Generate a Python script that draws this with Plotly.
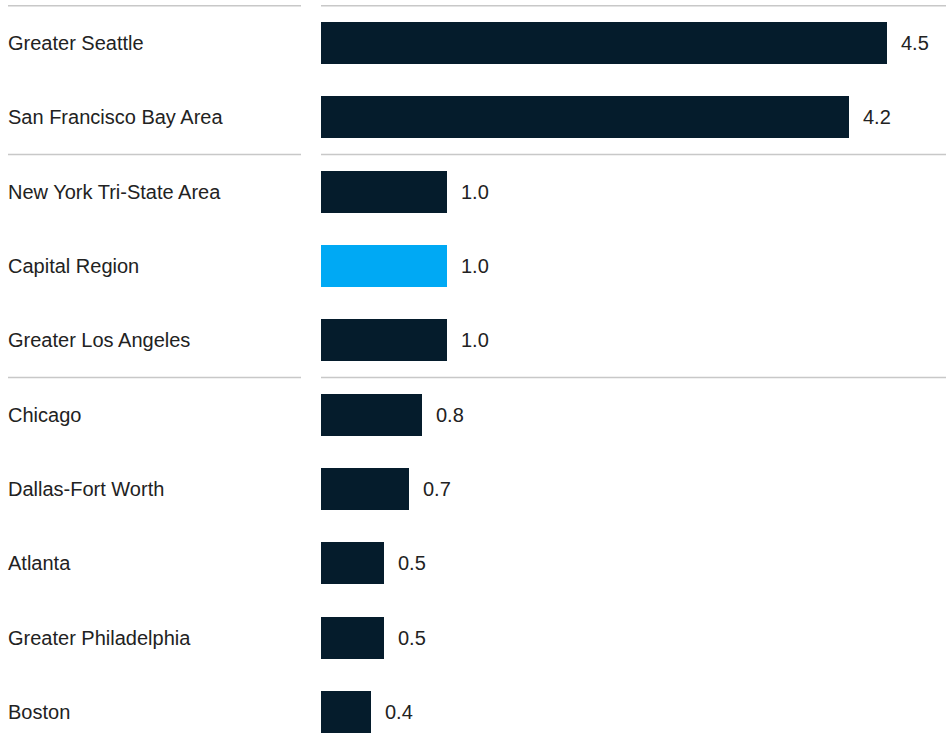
import plotly.graph_objects as go

categories = ["Greater Seattle", "San Francisco Bay Area", "New York Tri-State Area",
              "Capital Region", "Greater Los Angeles", "Chicago", "Dallas-Fort Worth",
              "Atlanta", "Greater Philadelphia", "Boston"]
values = [4.5, 4.2, 1.0, 1.0, 1.0, 0.8, 0.7, 0.5, 0.5, 0.4]
value_labels = ["4.5", "4.2", "1.0", "1.0", "1.0", "0.8", "0.7", "0.5", "0.5", "0.4"]
highlight = "Capital Region"
group_breaks = [-0.5, 1.5, 4.5]

DARK = "#051c2c"
BLUE = "#00a9f4"
TEXT = "#222222"
FONT = "Liberation Sans"
FS = 20

W, H = 946, 733
L = 321
plot_w = W - L
px_per_unit = 125.7
row_top = 43
row_step = 74.33

pos = list(range(len(categories)))
colors = [BLUE if c == highlight else DARK for c in categories]

fig = go.Figure()
fig.add_trace(go.Bar(
    x=values, y=pos, orientation="h", marker=dict(color=colors, line=dict(width=0)),
    width=0.565, hoverinfo="skip", showlegend=False,
))

ann = []
x_text_paper = (6 - L) / plot_w
x_line_paper = (8 - L) / plot_w
for i, c in enumerate(categories):
    ann.append(dict(x=x_text_paper, xref="paper", y=i, yref="y", text=c, showarrow=False,
                    xanchor="left", yanchor="middle", font=dict(family=FONT, size=FS, color=TEXT)))
    ann.append(dict(x=values[i], xref="x", y=i, yref="y", text=value_labels[i], showarrow=False,
                    xanchor="left", yanchor="middle", xshift=12,
                    font=dict(family=FONT, size=FS, color=TEXT)))

shapes = []
for b in group_breaks:
    shapes.append(dict(type="line", xref="paper", yref="y", x0=x_line_paper, x1=(301 - L) / plot_w,
                       y0=b, y1=b, line=dict(color="#c8c8c8", width=1.5)))
    shapes.append(dict(type="line", xref="paper", yref="y", x0=0, x1=1,
                       y0=b, y1=b, line=dict(color="#c8c8c8", width=1.5)))

y_top = -row_top / row_step
y_bot = (H - row_top) / row_step

fig.update_layout(
    width=W, height=H, margin=dict(l=L, r=0, t=0, b=0),
    paper_bgcolor="white", plot_bgcolor="white",
    xaxis=dict(range=[0, plot_w / px_per_unit], visible=False, fixedrange=True),
    yaxis=dict(range=[y_bot, y_top], visible=False, fixedrange=True),
    annotations=ann, shapes=shapes, bargap=0,
)

fig.write_html("out.html", config={"displayModeBar": False})
